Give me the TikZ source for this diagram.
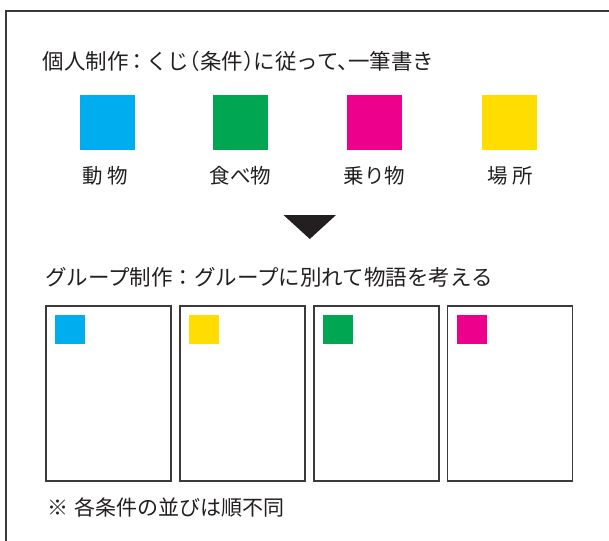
\documentclass[tikz,border=0pt]{standalone}
\usepackage{fontspec}
\setmainfont{Noto Sans CJK JP}
\definecolor{ccyan}{HTML}{00AEEF}
\definecolor{cgreen}{HTML}{00A651}
\definecolor{cmag}{HTML}{EC008C}
\definecolor{cyel}{HTML}{FFDD00}
\definecolor{ink}{HTML}{231F20}
\definecolor{framegray}{HTML}{3A3A3A}
\begin{document}
\begin{tikzpicture}[x=1pt,y=-1pt,
  every node/.style={inner sep=0pt, outer sep=0pt},
  bigsq/.style={minimum width=55pt, minimum height=55pt},
  minisq/.style={minimum width=30pt, minimum height=29pt, anchor=north west},
  card/.style={draw=framegray, line width=1.3pt, minimum width=125pt, minimum height=175pt, anchor=north west},
  heading/.style={anchor=west, text=ink, font=\fontsize{21.5}{25}\selectfont},
  lbl/.style={text=ink, font=\fontsize{20.5}{24}\selectfont},
  note/.style={anchor=west, text=ink, font=\fontsize{21}{24}\selectfont}]
\useasboundingbox (0,0) rectangle (609,540);
\fill[white] (0,0) rectangle (609,540);
\draw[framegray, line width=1.5pt] (6,545) -- (6,11) -- (615,11);

\node[heading] (t1) at (42.5,61.5) {\addfontfeature{RawFeature=+halt}個人制作\hspace{3.5pt}：\hspace{3.5pt}くじ（条件）に従って、一筆書き};

\node[bigsq, fill=ccyan] (s1) at (107.5,122.5) {};
\node[bigsq, fill=cgreen] (s2) at (240.5,122.5) {};
\node[bigsq, fill=cmag] (s3) at (374.5,122.5) {};
\node[bigsq, fill=cyel] (s4) at (509,122.5) {};

\node[lbl] (l1) at (105.5,175.5) {動\hspace{5pt}物};
\node[lbl] (l2) at (240.5,175.5) {食べ物};
\node[lbl] (l3) at (374.5,175.5) {乗り物};
\node[lbl] (l4) at (510,175.5) {場\hspace{5pt}所};

\fill[ink] (283.5,215) -- (336,215) -- (309.8,239) -- cycle;

\node[heading] (t2) at (45,277.5) {グループ制作：グループに別れて物語を考える};

\node[card] (c1) at (46,306) {};
\node[card] (c2) at (180,306) {};
\node[card] (c3) at (314,306) {};
\node[card] (c4) at (447.5,306) {};

\node[minisq, fill=ccyan] (m1) at ([xshift=9pt,yshift=-9pt]c1.north west) {};
\node[minisq, fill=cyel] (m2) at ([xshift=9pt,yshift=-9pt]c2.north west) {};
\node[minisq, fill=cgreen] (m3) at ([xshift=9pt,yshift=-9pt]c3.north west) {};
\node[minisq, fill=cmag] (m4) at ([xshift=9pt,yshift=-9pt]c4.north west) {};

\node[note] (n1) at (47,507) {※\hspace{7pt}各条件の並びは順不同};
\end{tikzpicture}
\end{document}
